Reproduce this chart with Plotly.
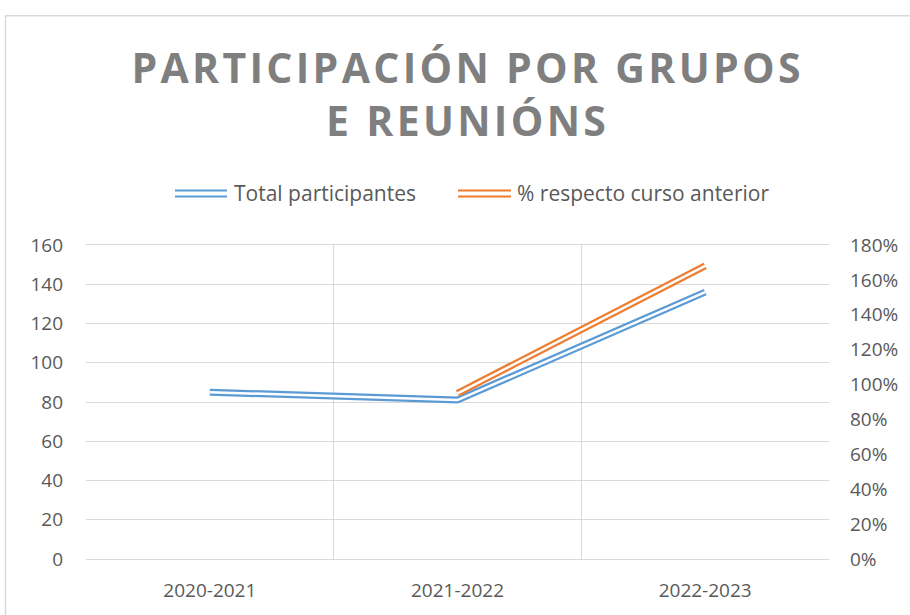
import plotly.graph_objects as go

categories = ["2020-2021", "2021-2022", "2022-2023"]
total_participantes = [85, 81, 136]
pct_respecto = [None, 0.95, 1.68]
left_ticks = [0, 20, 40, 60, 80, 100, 120, 140, 160]
right_ticks = [0, 0.2, 0.4, 0.6, 0.8, 1.0, 1.2, 1.4, 1.6, 1.8]

BLUE = "#5b9bd5"
ORANGE = "#ed7d31"
GRID = "#d9d9d9"
TXT = "#595959"
FONT = "Open Sans"

fig = go.Figure()
# double-line effect: thick colored line with a thin white line on top
fig.add_trace(go.Scatter(x=categories, y=total_participantes, mode="lines",
                         line=dict(color=BLUE, width=7), showlegend=False, hoverinfo="skip"))
fig.add_trace(go.Scatter(x=categories, y=total_participantes, mode="lines",
                         line=dict(color="white", width=2.5), showlegend=False, hoverinfo="skip"))
fig.add_trace(go.Scatter(x=categories, y=pct_respecto, mode="lines", yaxis="y2",
                         line=dict(color=ORANGE, width=7), showlegend=False, hoverinfo="skip"))
fig.add_trace(go.Scatter(x=categories, y=pct_respecto, mode="lines", yaxis="y2",
                         line=dict(color="white", width=2.5), showlegend=False, hoverinfo="skip"))

W, H = 910, 615
L, R, T, B = 86, 829, 245, 562
pw, ph = R - L, B - T

def px(x):
    return (x - L) / pw

def py(y):
    return (B - y) / ph

shapes = []
# chart outer frame
shapes.append(dict(type="rect", xref="paper", yref="paper",
                   x0=px(5.5), x1=px(930), y0=py(640), y1=py(13.5),
                   line=dict(color=GRID, width=1.5), fillcolor="rgba(0,0,0,0)", layer="below"))
# custom legend symbols (double lines)
for (x0, x1, col) in [(175, 227, BLUE), (458, 511, ORANGE)]:
    for yy in (190, 196):
        shapes.append(dict(type="line", xref="paper", yref="paper",
                           x0=px(x0), x1=px(x1), y0=py(yy), y1=py(yy),
                           line=dict(color=col, width=2)))

annotations = [
    dict(text="<b>PARTICIPACIÓN POR GRUPOS<br>E REUNIÓNS</b>", xref="paper", yref="paper",
         x=px(467), y=py(92), xanchor="center", yanchor="middle", showarrow=False,
         font=dict(family=FONT, size=41, color="#7f7f7f"), align="center"),
    dict(text="Total participantes", xref="paper", yref="paper", x=px(232), y=py(193),
         xanchor="left", yanchor="middle", showarrow=False,
         font=dict(family=FONT, size=21, color=TXT)),
    dict(text="% respecto curso anterior", xref="paper", yref="paper", x=px(515), y=py(193),
         xanchor="left", yanchor="middle", showarrow=False,
         font=dict(family=FONT, size=21, color=TXT)),
]

fig.update_layout(
    width=W, height=H,
    margin=dict(l=L, r=W - R, t=T, b=H - B, pad=0),
    paper_bgcolor="white", plot_bgcolor="white",
    showlegend=False,
    shapes=shapes, annotations=annotations,
    font=dict(family=FONT, size=19, color=TXT),
    xaxis=dict(type="category", categoryorder="array", categoryarray=categories,
               tickson="boundaries", showgrid=True, gridcolor=GRID, gridwidth=1,
               ticks="", showline=True, linecolor=GRID, mirror=True,
               tickfont=dict(family=FONT, size=19, color=TXT), ticklabelstandoff=14,
               range=[-0.5, 2.5], fixedrange=True),
    yaxis=dict(range=[0, 160], tickvals=left_ticks, showgrid=True, gridcolor=GRID,
               zeroline=False, showline=False, ticks="",
               tickfont=dict(family=FONT, size=19, color=TXT), ticklabelstandoff=22),
    yaxis2=dict(range=[0, 1.8], tickvals=right_ticks, tickformat=".0%", overlaying="y",
                side="right", showgrid=False, zeroline=False, showline=False, ticks="",
                tickfont=dict(family=FONT, size=19, color=TXT), ticklabelstandoff=20),
)

post = """
document.body.style.margin = '0';
var anns = document.querySelectorAll('.annotation-text');
if (anns.length) { anns[0].style.letterSpacing = '3.3px'; }
"""

fig.write_html("out.html", post_script=post, config={"displayModeBar": False})
